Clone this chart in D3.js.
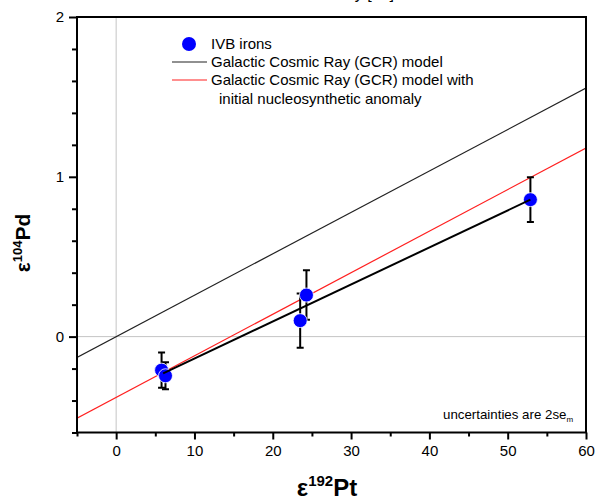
<!DOCTYPE html>
<html>
<head>
<meta charset="utf-8">
<script src="https://cdn.jsdelivr.net/npm/d3@7"></script>
<style>
  body { margin: 0; background: #fff; }
  svg { display: block; font-family: 'Liberation Sans', Arial, sans-serif; }
</style>
</head>
<body>
<svg id="chart" width="595" height="500"></svg>
<script>
// IVB irons: eps192Pt vs eps104Pd

const ptX = [5.8, 6.3, 23.5, 24.3, 52.9];
const pdY = [-0.21, -0.245, 0.10, 0.26, 0.857];
const pdErr = [0.11, 0.085, 0.17, 0.155, 0.14];

// model lines, endpoints at the axis edges
const modelX = [-5, 60];
const gcrY = [-0.13, 1.555];
const anomalyY = [-0.51, 1.18];

// regression through the IVB points
const fitX = [6.0, 52.9];
const fitY = [-0.23, 0.857];

const xMajor = [0, 10, 20, 30, 40, 50, 60];
const xMinor = [-5, 5, 15, 25, 35, 45, 55];
const yMajor = [0, 1, 2];
const yMinor = [-0.6, -0.4, -0.2, 0.2, 0.4, 0.6, 0.8, 1.2, 1.4, 1.6, 1.8];

const legendLabels = [
    'IVB irons',
    'Galactic Cosmic Ray (GCR) model',
    'Galactic Cosmic Ray (GCR) model with',
    'initial nucleosynthetic anomaly'
];

(function () {
    const LEFT = 77, RIGHT = 586, TOP = 17, BOTTOM = 432.5;

    const svg = d3.select('#chart');

    const x = d3.scaleLinear().domain([-5, 60]).range([LEFT, RIGHT]);
    const y = d3.scaleLinear().domain([-0.6, 2]).range([BOTTOM, TOP]);

    // cut-off caption from the page above (only descenders show)
    svg.append('text')
        .attr('x', 394).attr('y', -1)
        .attr('text-anchor', 'end')
        .attr('font-size', 16)
        .text('Cosmic Ray [19]');

    svg.append('defs').append('clipPath').attr('id', 'plot-clip')
        .append('rect')
        .attr('x', LEFT).attr('y', TOP)
        .attr('width', RIGHT - LEFT).attr('height', BOTTOM - TOP);

    // zero reference lines
    svg.append('line')
        .attr('x1', x(0)).attr('x2', x(0))
        .attr('y1', TOP).attr('y2', BOTTOM)
        .attr('stroke', '#c4c4c4').attr('stroke-width', 1);
    svg.append('line')
        .attr('x1', LEFT).attr('x2', RIGHT)
        .attr('y1', y(0)).attr('y2', y(0))
        .attr('stroke', '#c4c4c4').attr('stroke-width', 1);

    const plot = svg.append('g').attr('clip-path', 'url(#plot-clip)');
    const line = d3.line().x(d => x(d[0])).y(d => y(d[1]));

    plot.append('path')
        .datum(d3.zip(modelX, gcrY))
        .attr('d', line)
        .attr('fill', 'none')
        .attr('stroke', '#222')
        .attr('stroke-width', 1.2);

    plot.append('path')
        .datum(d3.zip(modelX, anomalyY))
        .attr('d', line)
        .attr('fill', 'none')
        .attr('stroke', '#ff2020')
        .attr('stroke-width', 1.2);

    const pts = ptX.map((v, i) => ({ x: v, y: pdY[i], e: pdErr[i] }));

    // error bars
    const bars = plot.append('g').selectAll('g')
        .data(pts)
        .join('g')
        .attr('stroke', '#000')
        .attr('stroke-width', 2);
    bars.append('line')
        .attr('x1', d => x(d.x)).attr('x2', d => x(d.x))
        .attr('y1', d => y(d.y - d.e)).attr('y2', d => y(d.y + d.e));
    bars.append('line')
        .attr('x1', d => x(d.x) - 3.5).attr('x2', d => x(d.x) + 3.5)
        .attr('y1', d => y(d.y + d.e)).attr('y2', d => y(d.y + d.e));
    bars.append('line')
        .attr('x1', d => x(d.x) - 3.5).attr('x2', d => x(d.x) + 3.5)
        .attr('y1', d => y(d.y - d.e)).attr('y2', d => y(d.y - d.e));

    plot.append('g').selectAll('circle')
        .data(pts)
        .join('circle')
        .attr('cx', d => x(d.x))
        .attr('cy', d => y(d.y))
        .attr('r', 7)
        .attr('fill', '#0000ff')
        .attr('stroke', '#fff')
        .attr('stroke-width', 0.8);

    plot.append('path')
        .datum(d3.zip(fitX, fitY))
        .attr('d', line)
        .attr('fill', 'none')
        .attr('stroke', '#000')
        .attr('stroke-width', 2);

    // axes
    const styleAxis = g => {
        g.select('.domain').remove();
        g.selectAll('line').attr('stroke', '#000').attr('stroke-width', 2);
        g.selectAll('text').attr('font-size', 15).attr('fill', '#000')
            .attr('font-family', "'Liberation Sans', Arial, sans-serif");
    };

    svg.append('g')
        .attr('transform', `translate(0,${BOTTOM})`)
        .call(d3.axisBottom(x).tickValues(xMajor).tickSize(7).tickPadding(6).tickFormat(d3.format('d')))
        .call(styleAxis);
    svg.append('g')
        .attr('transform', `translate(0,${BOTTOM})`)
        .call(d3.axisBottom(x).tickValues(xMinor).tickSize(4).tickFormat(''))
        .call(styleAxis);

    svg.append('g')
        .attr('transform', `translate(${LEFT},0)`)
        .call(d3.axisLeft(y).tickValues(yMajor).tickSize(8).tickPadding(5).tickFormat(d3.format('d')))
        .call(styleAxis);
    svg.append('g')
        .attr('transform', `translate(${LEFT},0)`)
        .call(d3.axisLeft(y).tickValues(yMinor).tickSize(5).tickFormat(''))
        .call(styleAxis);

    // frame
    svg.append('rect')
        .attr('x', LEFT).attr('y', TOP)
        .attr('width', RIGHT - LEFT).attr('height', BOTTOM - TOP)
        .attr('fill', 'none')
        .attr('stroke', '#000')
        .attr('stroke-width', 2);

    // axis titles
    const xt = svg.append('text')
        .attr('x', 327).attr('y', 496)
        .attr('text-anchor', 'middle')
        .attr('font-weight', 'bold')
        .attr('font-size', 24);
    xt.append('tspan').text('ε');
    xt.append('tspan').attr('font-size', 15).attr('dy', -10).text('192');
    xt.append('tspan').attr('dy', 10).text('Pt');

    const yt = svg.append('text')
        .attr('transform', 'translate(30,243) rotate(-90)')
        .attr('text-anchor', 'middle')
        .attr('font-weight', 'bold')
        .attr('font-size', 21);
    yt.append('tspan').text('ε');
    yt.append('tspan').attr('font-size', 13).attr('dy', -8).text('104');
    yt.append('tspan').attr('dy', 8).text('Pd');

    // legend
    const legend = svg.append('g').attr('font-size', 15);
    legend.append('circle')
        .attr('cx', 189).attr('cy', 44).attr('r', 7)
        .attr('fill', '#0000ff');
    legend.append('line')
        .attr('x1', 172).attr('x2', 207).attr('y1', 62).attr('y2', 62)
        .attr('stroke', '#222').attr('stroke-width', 1.2);
    legend.append('line')
        .attr('x1', 172).attr('x2', 207).attr('y1', 80).attr('y2', 80)
        .attr('stroke', '#ff2020').attr('stroke-width', 1.2);
    const ly = [49, 67, 85, 104];
    const lx = [211, 211, 211, 219];
    legend.selectAll('text')
        .data(legendLabels)
        .join('text')
        .attr('x', (d, i) => lx[i])
        .attr('y', (d, i) => ly[i])
        .text(d => d);

    // note
    const note = svg.append('text')
        .attr('x', 443).attr('y', 419)
        .attr('font-size', 13.3);
    note.append('tspan').text('uncertainties are 2se');
    note.append('tspan').attr('font-size', 8).attr('dy', 3).text('m');
})();
</script>
</body>
</html>
